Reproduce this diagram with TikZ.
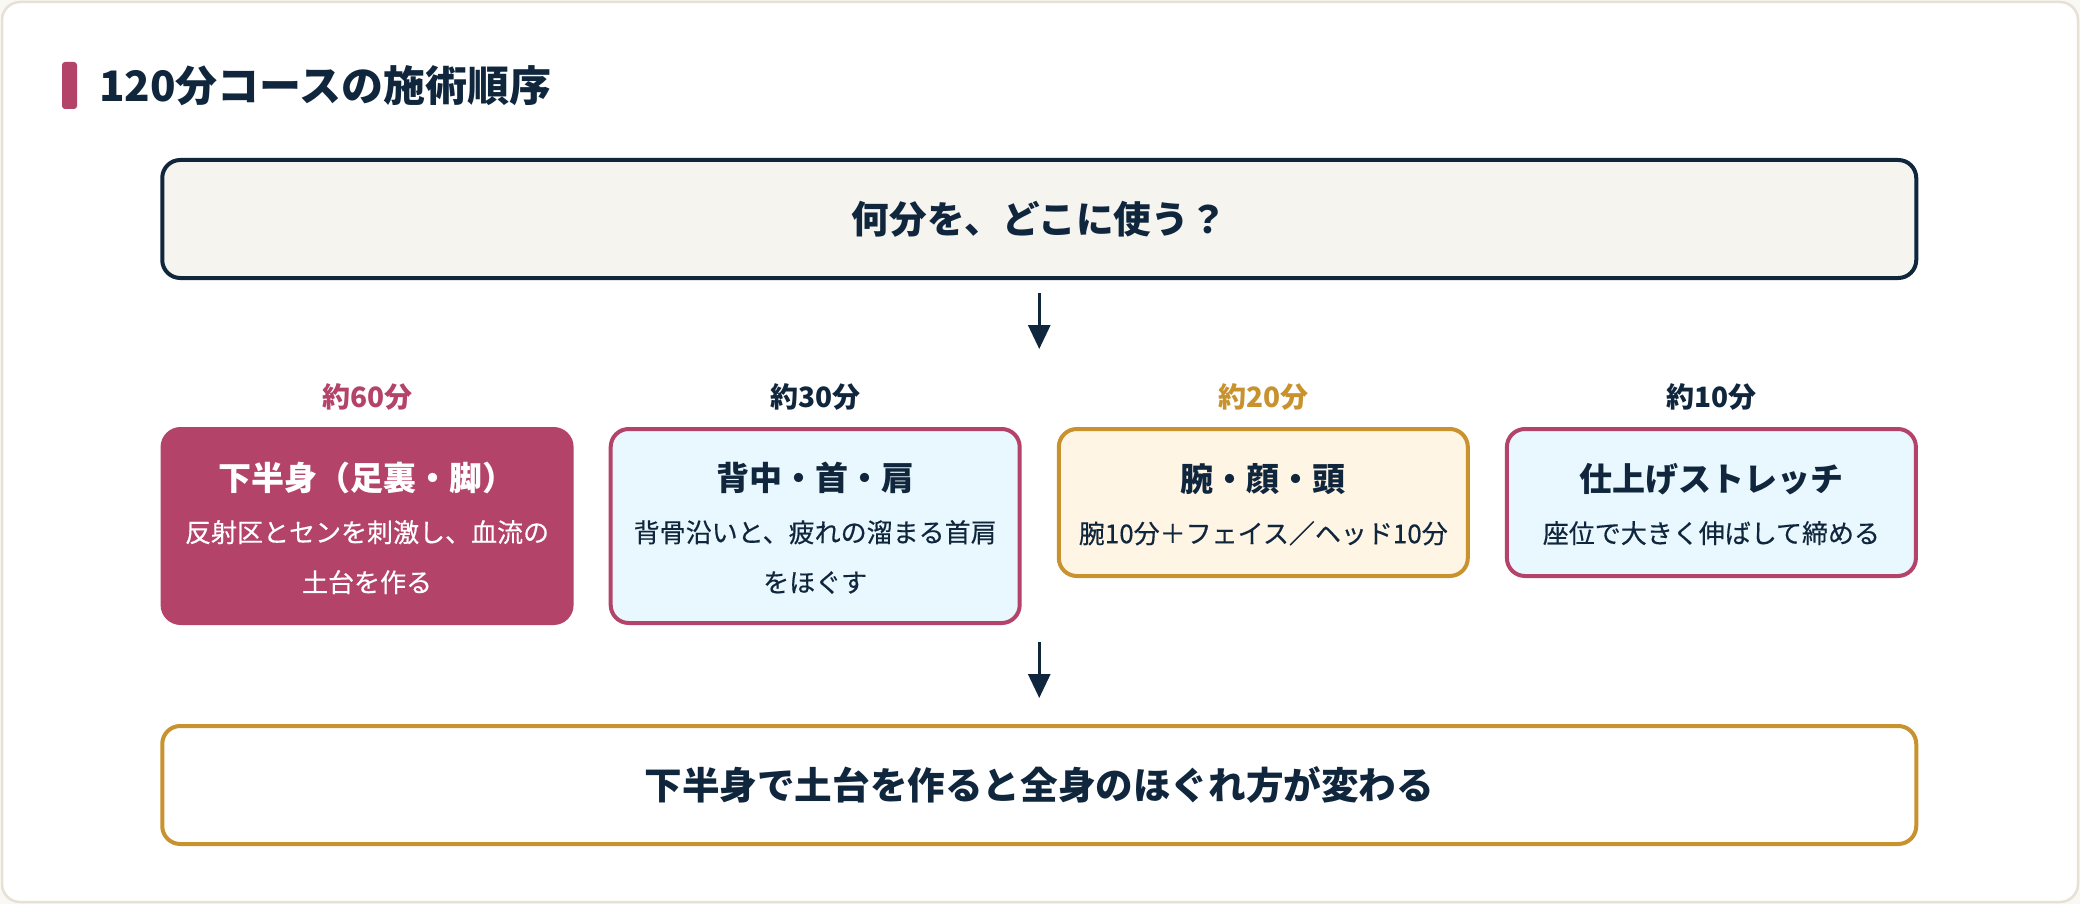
\documentclass[tikz,border=0pt]{standalone}
\usepackage{fontspec}
\setmainfont{Noto Sans CJK JP}
\newfontfamily\jpmedium{Noto Sans CJK JP}[FakeBold=0.4]
\usetikzlibrary{arrows.meta,positioning,calc}

\definecolor{navy}{HTML}{10263D}
\definecolor{rose}{HTML}{B4436A}
\definecolor{gold}{HTML}{C8922F}
\definecolor{sky}{HTML}{E9F8FE}
\definecolor{cream}{HTML}{FFF5E5}
\definecolor{paper}{HTML}{F5F4EF}
\definecolor{framecol}{HTML}{E5E2D4}

\tikzset{
	stagebox/.style={rounded corners=18pt, line width=4pt, minimum width=409pt, minimum height=194pt, inner sep=0pt},
	widebox/.style={rounded corners=18pt, line width=4pt, minimum width=1754pt, minimum height=118pt, inner sep=0pt, text=navy, font=\fontsize{37.6}{44}\selectfont\bfseries},
	minutes/.style={inner sep=0pt, font=\fontsize{28}{34}\selectfont\bfseries},
	boxhead/.style={inner sep=0pt, anchor=base, font=\fontsize{33}{40}\selectfont\bfseries},
	boxdesc/.style={inner sep=0pt, anchor=north, align=center, font=\jpmedium\fontsize{26}{50}\selectfont},
	arr/.style={line width=3pt, navy, -{Triangle[length=24pt,width=22pt]}},
}

\begin{document}
\begin{tikzpicture}[x=1pt, y=-1pt]
	\useasboundingbox (0,0) rectangle (2080,904);
	\fill[paper!60!white] (0,0) rectangle (2080,904);
	\draw[framecol, fill=white, line width=2.5pt, rounded corners=18pt] (2,2) rectangle (2078,902);

	% title
	\fill[rose, rounded corners=3pt] (62,62) rectangle (77,109);
	\node[anchor=west, inner sep=0pt, text=navy, font=\fontsize{42}{50}\selectfont\bfseries] (title) at (99,86) {120分コースの施術順序};

	% question
	\node[widebox, draw=navy, fill=paper] (ask) at (1039.25,219) {何分を、どこに使う？};

	% stages
	\node[stagebox, draw=rose, fill=rose] (b1) at (367.1,526) {};
	\node[stagebox, draw=rose, fill=sky] (b2) at (815.2,526) {};
	\node[stagebox, draw=gold, fill=cream, minimum height=147pt] (b3) at (1263.3,502.5) {};
	\node[stagebox, draw=rose, fill=sky, minimum height=147pt] (b4) at (1711.4,502.5) {};

	\node[minutes, text=rose] (m1) at (367.1,397) {約60分};
	\node[minutes, text=navy] (m2) at (815.2,397) {約30分};
	\node[minutes, text=gold] (m3) at (1263.3,397) {約20分};
	\node[minutes, text=navy] (m4) at (1711.4,397) {約10分};

	\node[boxhead, text=white] (h1) at ($(b1.north)+(0,63)$) {下半身（足裏・脚）};
	\node[boxdesc, text=white] (d1) at ($(b1.north)+(0,93)$) {反射区とセンを刺激し、血流の\\土台を作る};
	\node[boxhead, text=navy] (h2) at ($(b2.north)+(0,63)$) {背中・首・肩};
	\node[boxdesc, text=navy] (d2) at ($(b2.north)+(0,93)$) {背骨沿いと、疲れの溜まる首肩\\をほぐす};
	\node[boxhead, text=navy] (h3) at ($(b3.north)+(0,64)$) {腕・顔・頭};
	\node[boxdesc, text=navy] (d3) at ($(b3.north)+(0,94)$) {腕10分＋フェイス／ヘッド10分};
	\node[boxhead, text=navy] (h4) at ($(b4.north)+(0,64)$) {仕上げストレッチ};
	\node[boxdesc, text=navy] (d4) at ($(b4.north)+(0,94)$) {座位で大きく伸ばして締める};

	% result
	\node[widebox, draw=gold, fill=white] (res) at (1039.25,785) {下半身で土台を作ると全身のほぐれ方が変わる};

	\coordinate (a1) at (1039.25,349);
	\coordinate (a2) at (1039.25,642);
	\draw[arr, shorten <=13pt] (ask.south) -- (a1);
	\draw[arr, shorten >=26pt] (a2) -- (res.north);
\end{tikzpicture}
\end{document}
